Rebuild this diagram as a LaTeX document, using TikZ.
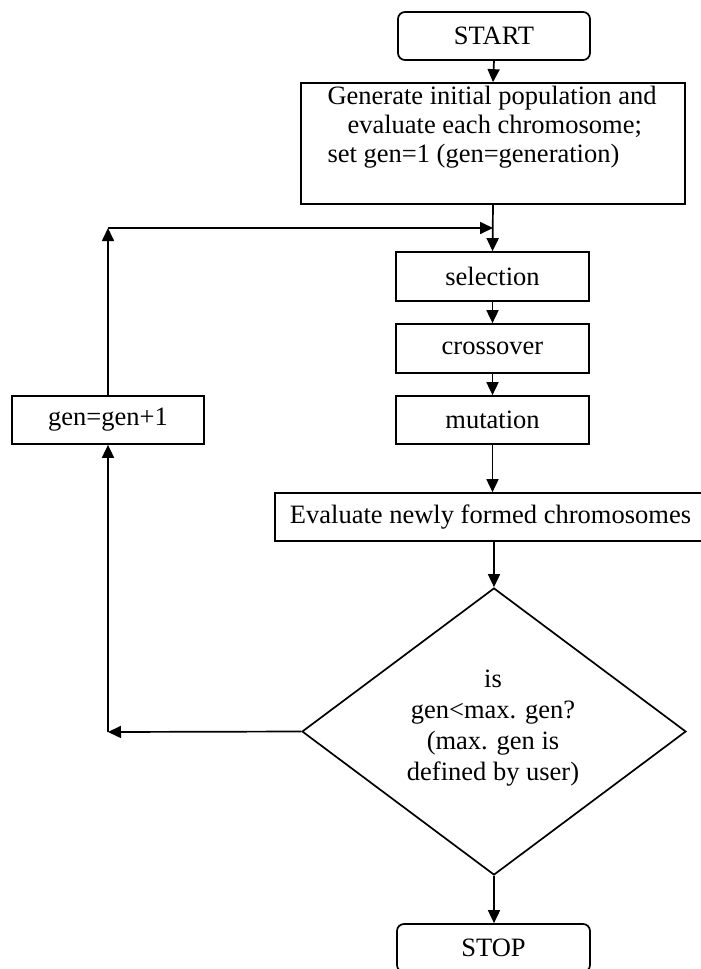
\documentclass[tikz,border=0pt]{standalone}
\usepackage{fontspec}
\setmainfont{Liberation Serif}
\usetikzlibrary{arrows.meta,shapes.geometric}
\begin{document}
\begin{tikzpicture}[x=1pt,y=-1pt,
  every node/.style={font=\fontsize{26.5}{29}\selectfont, text=black},
  procbox/.style={draw=black, line width=1.7pt, rectangle, inner sep=0pt},
  termbox/.style={draw=black, line width=1.7pt, rectangle, rounded corners=7pt, inner sep=0pt},
  arr/.style={draw=black, line width=1.7pt, -{Triangle[length=13pt,width=12pt]}},
  ln/.style={draw=black, line width=1.7pt}
]
\useasboundingbox (0,0) rectangle (701,969);
\fill[white] (0,0) rectangle (701,969);
\clip (0,0) rectangle (701,969);

\node[termbox, minimum width=192pt, minimum height=48pt] (start) at (494,36) {START};
\node[procbox, minimum width=384pt, minimum height=121pt] (init) at (493,143.5) {};
\node[align=left, inner sep=0pt] (inittext) at (492,127)
  {Generate initial population and\\ \hspace*{20pt}evaluate each chromosome;\\ set gen=1 (gen=generation)};
\node[procbox, minimum width=193pt, minimum height=49pt] (sel) at (492.5,276.5) {selection};
\node[procbox, minimum width=193pt, minimum height=49pt] (cross) at (492.5,348.5) {crossover};
\node[procbox, minimum width=193pt, minimum height=48pt] (mut) at (492.5,420) {mutation};
\node[procbox, minimum width=500pt, minimum height=48pt] (eval) at (525,517) {};
\node[inner sep=0pt] (evaltext) at (490.5,517) {Evaluate newly formed chromosomes};
\node[draw=black, line width=1.7pt, diamond, inner sep=0pt, minimum width=384pt, minimum height=287pt] (dec) at (494,731.5) {};
\node[align=center, inner sep=0pt, font=\fontsize{26.5}{31}\selectfont] (dectext) at (493,728)
  {is\\ gen<max. gen?\\ (max. gen is\\ defined by user)};
\node[termbox, minimum width=193pt, minimum height=48pt] (stop) at (493.5,948) {STOP};
\node[procbox, minimum width=192pt, minimum height=48pt] (inc) at (108,420) {gen=gen+1};

\coordinate (lt) at (108,228);
\coordinate (rt) at (493,228);
\coordinate (lb) at (108,732);

\draw[arr] (start.south) -- (init.north);
\draw[arr] (init.south) -- (sel.north);
\draw[arr] (sel.south) -- (cross.north);
\draw[arr] (cross.south) -- (mut.north);
\draw[arr] (mut.south) -- (mut.south |- eval.north);
\draw[arr] (dec.north |- eval.south) -- (dec.north);
\draw[arr] (dec.south) -- (dec.south |- stop.north);
\draw[arr] (dec.west) -- (lb);
\draw[arr] (lb) -- (inc.south);
\draw[arr] (inc.north) -- (lt);
\draw[arr] (lt) -- (rt);
\end{tikzpicture}
\end{document}
